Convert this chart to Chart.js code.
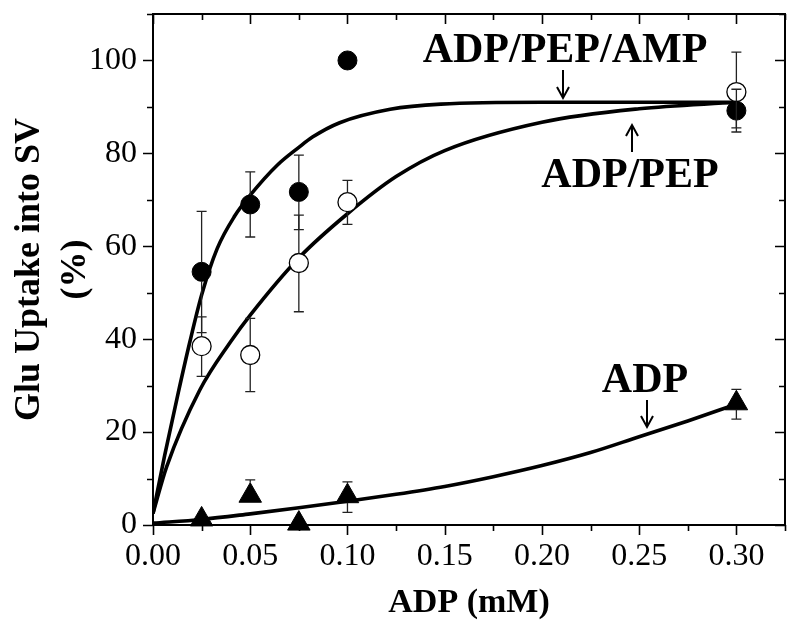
<!DOCTYPE html>
<html>
<head>
<meta charset="utf-8">
<script src="https://cdn.jsdelivr.net/npm/chart.js@4.4.1/dist/chart.umd.min.js"></script>
<style>
  html, body { margin: 0; padding: 0; background: #fff; }
  canvas { display: block; }
</style>
</head>
<body>
<canvas id="c" width="800" height="634"></canvas>
<script>
// ---- Data ----
const concX = [0.025, 0.05, 0.075, 0.10, 0.30];

// ADP/PEP/AMP (filled circles)
const ampY  = [54.5, 69.0, 71.7, 100.0, 89.2];
const ampHi = [67.5, 76.0, 79.6, null, 93.8];
const ampLo = [41.4, 62.0, 63.6, null, 84.6];

// ADP/PEP (open circles)
const pepY  = [38.5, 36.6, 56.4, 69.5, 93.2];
const pepHi = [44.8, 44.5, 66.7, 74.2, 101.8];
const pepLo = [32.0, 28.7, 45.9, 64.7, 85.5];

// ADP (triangles)
const adpY  = [1.2, 6.3, 0.3, 6.2, 26.2];
const adpHi = [null, 9.7, null, 9.3, 29.2];
const adpLo = [null, null, null, 2.7, 22.8];

// Fitted curves (traced)
const ampFitX = [0, 0.006, 0.013, 0.019, 0.025, 0.033, 0.042, 0.05, 0.064, 0.075, 0.082, 0.096, 0.122, 0.148, 0.2, 0.3];
const ampFitY = [2.5, 15.0, 28.5, 39.5, 49.5, 59.5, 66.5, 71.0, 77.5, 81.3, 83.5, 86.6, 89.5, 90.6, 91.0, 91.0];
const pepFitX = [0, 0.007, 0.024, 0.04, 0.05, 0.075, 0.1, 0.125, 0.15, 0.2, 0.25, 0.3];
const pepFitY = [2.5, 12.5, 29.0, 39.5, 45.2, 57.5, 67.0, 75.0, 80.6, 86.7, 89.6, 91.0];
const adpFitX = [0, 0.025, 0.05, 0.075, 0.1, 0.125, 0.15, 0.175, 0.2, 0.225, 0.25, 0.275, 0.3];
const adpFitY = [0.4, 1.2, 2.4, 3.7, 5.1, 6.6, 8.3, 10.4, 12.8, 15.6, 19.0, 22.4, 26.0];

// Axes
const xTicks = [0, 0.05, 0.10, 0.15, 0.20, 0.25, 0.30];
const xTickLabels = ['0.00', '0.05', '0.10', '0.15', '0.20', '0.25', '0.30'];
const xMinor = [0.025, 0.075, 0.125, 0.175, 0.225, 0.275, 0.325];
const yTicks = [0, 20, 40, 60, 80, 100];
const yTickLabels = ['0', '20', '40', '60', '80', '100'];
const yMinor = [10, 30, 50, 70, 90, 110];

// Annotation labels
const labelTexts = ['ADP/PEP/AMP', 'ADP/PEP', 'ADP'];

// ---- Chart ----
const SERIF = '"Liberation Serif", "DejaVu Serif", serif';
const pts = (xs, ys) => xs.map((x, i) => ({x: x, y: ys[i]}));

const CIRCLE_R = 9.5;
const TRI_R = 13;

const errorSets = [
  {ys: ampY, hi: ampHi, lo: ampLo, up: CIRCLE_R, down: CIRCLE_R},
  {ys: pepY, hi: pepHi, lo: pepLo, up: CIRCLE_R, down: CIRCLE_R},
  {ys: adpY, hi: adpHi, lo: adpLo, up: TRI_R, down: TRI_R * 0.5}
];

const bgPlugin = {
  id: 'bg',
  beforeDraw(chart) {
    const ctx = chart.ctx;
    ctx.save();
    ctx.fillStyle = '#fff';
    ctx.fillRect(0, 0, chart.width, chart.height);
    ctx.restore();
  }
};

const errPlugin = {
  id: 'errbars',
  afterDatasetsDraw(chart) {
    const ctx = chart.ctx;
    const xs = chart.scales.x, ys = chart.scales.y;
    ctx.save();
    ctx.strokeStyle = '#222';
    ctx.lineWidth = 1.3;
    errorSets.forEach(s => {
      concX.forEach((x, i) => {
        const px = xs.getPixelForValue(x);
        const py = ys.getPixelForValue(s.ys[i]);
        const cap = 5;
        if (s.hi[i] != null) {
          const pu = ys.getPixelForValue(s.hi[i]);
          ctx.beginPath();
          if (pu < py - s.up) { ctx.moveTo(px, py - s.up); ctx.lineTo(px, pu); }
          ctx.moveTo(px - cap, pu); ctx.lineTo(px + cap, pu);
          ctx.stroke();
        }
        if (s.lo[i] != null) {
          const pl = ys.getPixelForValue(s.lo[i]);
          ctx.beginPath();
          if (pl > py + s.down) { ctx.moveTo(px, py + s.down); ctx.lineTo(px, pl); }
          ctx.moveTo(px - cap, pl); ctx.lineTo(px + cap, pl);
          ctx.stroke();
        }
      });
    });
    ctx.restore();
  }
};

const framePlugin = {
  id: 'frame',
  afterDraw(chart) {
    const ctx = chart.ctx;
    const a = chart.chartArea;
    const xs = chart.scales.x, ys = chart.scales.y;
    ctx.save();
    ctx.strokeStyle = '#000';
    ctx.lineWidth = 2;
    ctx.strokeRect(a.left, a.top, a.right - a.left, a.bottom - a.top);
    ctx.lineWidth = 1.6;
    ctx.beginPath();
    const MAJ = 10, MIN = 6;
    xTicks.forEach(v => {
      const p = Math.round(xs.getPixelForValue(v)) + 0.5;
      ctx.moveTo(p, a.bottom); ctx.lineTo(p, a.bottom + MAJ);
      ctx.moveTo(p, a.top); ctx.lineTo(p, a.top + MAJ);
    });
    xMinor.forEach(v => {
      const p = Math.round(xs.getPixelForValue(v)) + 0.5;
      ctx.moveTo(p, a.bottom); ctx.lineTo(p, a.bottom + MIN);
      ctx.moveTo(p, a.top); ctx.lineTo(p, a.top + MIN);
    });
    yTicks.forEach(v => {
      const p = Math.round(ys.getPixelForValue(v)) + 0.5;
      ctx.moveTo(a.left, p); ctx.lineTo(a.left - MAJ, p);
      ctx.moveTo(a.right, p); ctx.lineTo(a.right - MAJ, p);
    });
    yMinor.forEach(v => {
      const p = Math.round(ys.getPixelForValue(v)) + 0.5;
      ctx.moveTo(a.left, p); ctx.lineTo(a.left - MIN, p);
      ctx.moveTo(a.right, p); ctx.lineTo(a.right - MIN, p);
    });
    ctx.stroke();
    ctx.restore();
  }
};

// label positions (pixel) and arrows
const labelPos = [
  {cx: 565, base: 62, ax: 563, ay1: 70, ay2: 98, dir: 'down'},
  {cx: 630, base: 187, ax: 632, ay1: 152, ay2: 125, dir: 'up'},
  {cx: 645, base: 392, ax: 647, ay1: 400, ay2: 427, dir: 'down'}
];

const labelPlugin = {
  id: 'labels',
  afterDraw(chart) {
    const ctx = chart.ctx;
    ctx.save();
    ctx.fillStyle = '#000';
    ctx.strokeStyle = '#000';
    ctx.font = 'bold 42px ' + SERIF;
    ctx.textAlign = 'center';
    ctx.textBaseline = 'alphabetic';
    labelTexts.forEach((t, i) => {
      const L = labelPos[i];
      ctx.fillText(t, L.cx, L.base);
      ctx.lineWidth = 2;
      ctx.beginPath();
      ctx.moveTo(L.ax, L.ay1); ctx.lineTo(L.ax, L.ay2);
      const s = L.dir === 'down' ? -1 : 1;
      ctx.moveTo(L.ax - 6, L.ay2 + s * 11); ctx.lineTo(L.ax, L.ay2); ctx.lineTo(L.ax + 6, L.ay2 + s * 11);
      ctx.stroke();
    });
    ctx.restore();
  }
};

const lineDS = (xs, ys) => ({
  type: 'line',
  data: pts(xs, ys),
  borderColor: '#000',
  borderWidth: 3.6,
  pointRadius: 0,
  fill: false,
  cubicInterpolationMode: 'monotone',
  order: 2
});

new Chart(document.getElementById('c'), {
  type: 'scatter',
  data: {
    datasets: [
      lineDS(ampFitX, ampFitY),
      lineDS(pepFitX, pepFitY),
      lineDS(adpFitX, adpFitY),
      {
        label: 'ADP/PEP',
        data: pts(concX, pepY),
        pointStyle: 'circle', pointRadius: CIRCLE_R,
        backgroundColor: '#fff', borderColor: '#000', borderWidth: 1.3,
        clip: false, order: 1
      },
      {
        label: 'ADP/PEP/AMP',
        data: pts(concX, ampY),
        pointStyle: 'circle', pointRadius: CIRCLE_R,
        backgroundColor: '#000', borderColor: '#000', borderWidth: 1,
        clip: false, order: 0
      },
      {
        label: 'ADP',
        data: pts(concX, adpY),
        pointStyle: 'triangle', pointRadius: TRI_R,
        backgroundColor: '#000', borderColor: '#000', borderWidth: 1,
        clip: false, order: 0
      }
    ]
  },
  options: {
    responsive: false,
    animation: false,
    devicePixelRatio: 1,
    layout: { padding: { top: 14, right: 15, left: 0, bottom: 0 } },
    plugins: { legend: { display: false }, tooltip: { enabled: false } },
    scales: {
      x: {
        type: 'linear', min: 0, max: 0.325,
        afterBuildTicks: s => { s.ticks = xTicks.map(v => ({value: v})); },
        afterFit: s => { s.height = 109; s.paddingLeft = 0; s.paddingRight = 0; },
        grid: { display: false, drawTicks: false },
        border: { display: false },
        ticks: {
          callback: (v, i) => xTickLabels[i],
          font: { family: SERIF, size: 32 },
          color: '#000',
          padding: 12,
          maxRotation: 0
        },
        title: {
          display: true, text: 'ADP (mM)',
          font: { family: SERIF, size: 34, weight: 'bold', lineHeight: 1.2 },
          color: '#000',
          padding: { top: 0, bottom: 10 }
        }
      },
      y: {
        type: 'linear', min: 0, max: 110,
        afterBuildTicks: s => { s.ticks = yTicks.map(v => ({value: v})); },
        afterFit: s => { s.width = 153; s.paddingTop = 0; s.paddingBottom = 0; },
        grid: { display: false, drawTicks: false },
        border: { display: false },
        ticks: {
          callback: (v, i) => yTickLabels[i],
          font: { family: SERIF, size: 32 },
          color: '#000',
          padding: 16
        },
        title: {
          display: true, text: ['Glu Uptake into SV', '(%)'],
          font: { family: SERIF, size: 36, weight: 'bold', lineHeight: 1.3 },
          color: '#000',
          padding: { top: 6, bottom: 0 }
        }
      }
    }
  },
  plugins: [bgPlugin, errPlugin, framePlugin, labelPlugin]
});
</script>
</body>
</html>
